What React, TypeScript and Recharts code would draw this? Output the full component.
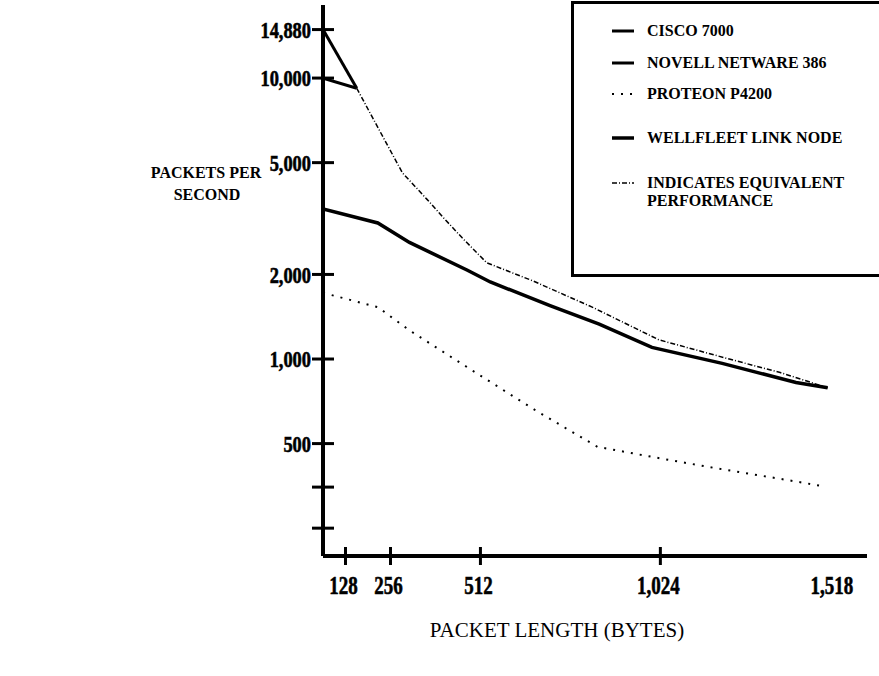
import React from 'react';
import { LineChart, Line, XAxis, YAxis, Legend, Label } from 'recharts';

// packet length (bytes) / packets per second
const ciscoBytes = [64, 160];
const ciscoPps = [14880, 9200];
const novellBytes = [64, 160];
const novellPps = [10000, 9200];
const proteonBytes = [64, 220, 310, 480, 670, 845, 985, 1175, 1385, 1485];
const proteonPps = [1720, 1530, 1265, 925, 655, 487, 452, 410, 371, 353];
const wellfleetBytes = [64, 220, 310, 475, 540, 710, 850, 1000, 1200, 1410, 1500];
const wellfleetPps = [3420, 3050, 2600, 2070, 1880, 1550, 1330, 1100, 965, 825, 790];
const equivBytes = [160, 225, 290, 360, 405, 460, 530, 660, 830, 1020, 1220, 1365, 1500];
const equivPps = [9200, 6500, 4600, 3700, 3200, 2700, 2200, 1900, 1530, 1170, 1000, 895, 790];

const xTicks = [128, 256, 512, 1024, 1518];
const xTickMarks = [128, 256, 512, 1024];
const yTicks = [250, 350, 500, 1000, 2000, 5000, 10000, 14880];
const yLabelled = [500, 1000, 2000, 5000, 10000, 14880];

const seriesNames = [
    'CISCO 7000',
    'NOVELL NETWARE 386',
    'PROTEON P4200',
    'WELLFLEET LINK NODE',
    'INDICATES EQUIVALENT PERFORMANCE',
];

const FONT = '"Liberation Serif", "Times New Roman", serif';

const toPoints = (xs: number[], ys: number[]) =>
    xs.map((x, i) => ({ bytes: x, pps: ys[i] }));

const lineStyles: Record<string, { width: number; dash?: string }> = {
    'CISCO 7000': { width: 3 },
    'NOVELL NETWARE 386': { width: 3 },
    'PROTEON P4200': { width: 2, dash: '2 7' },
    'WELLFLEET LINK NODE': { width: 3.5 },
    'INDICATES EQUIVALENT PERFORMANCE': { width: 1.5, dash: '5 2 1 2' },
};

const legendRowTops = [18, 50, 81, 125, 170];

const XTick = (props: any) => {
    const { x, y, payload } = props;
    return (
        <g>
            {xTickMarks.includes(payload.value) && (
                <line x1={x} x2={x} y1={y - 9} y2={y + 9} stroke="#000" strokeWidth={3} />
            )}
            <text
                transform={`translate(${x - 2},${y + 38}) scale(0.76,1)`}
                textAnchor="middle"
                fontFamily={FONT}
                fontWeight="bold"
                fontSize={25}
                fill="#000"
                stroke="#000"
                strokeWidth={0.6}
            >
                {payload.value.toLocaleString('en-US')}
            </text>
        </g>
    );
};

const YTick = (props: any) => {
    const { x, y, payload } = props;
    return (
        <g>
            <line x1={x - 11} x2={x + 11} y1={y} y2={y} stroke="#000" strokeWidth={3} />
            {yLabelled.includes(payload.value) && (
                <text
                    transform={`translate(${x - 12},${y}) scale(0.8,1)`}
                    textAnchor="end"
                    dy="0.36em"
                    fontFamily={FONT}
                    fontWeight="bold"
                    fontSize={23}
                    fill="#000"
                    stroke="#000"
                    strokeWidth={0.6}
                >
                    {payload.value.toLocaleString('en-US')}
                </text>
            )}
        </g>
    );
};

const renderLegend = () => (
    <div
        style={{
            position: 'relative',
            width: '100%',
            height: '100%',
            boxSizing: 'border-box',
            border: '3px solid #000',
            borderRight: 'none',
            background: '#fff',
            fontFamily: FONT,
            fontWeight: 'bold',
            fontSize: 16,
            lineHeight: '18px',
            color: '#000',
        }}
    >
        {seriesNames.map((name, i) => {
            const st = lineStyles[name];
            return (
                <div key={name} style={{ position: 'absolute', left: 38, top: legendRowTops[i] }}>
                    <svg width={22} height={18} style={{ position: 'absolute', left: 0, top: 0 }}>
                        <line
                            x1={0}
                            x2={22}
                            y1={9}
                            y2={9}
                            stroke="#000"
                            strokeWidth={st.width}
                            strokeDasharray={st.dash}
                        />
                    </svg>
                    <div style={{ position: 'absolute', left: 35, top: 0, width: 210 }}>{name}</div>
                </div>
            );
        })}
    </div>
);

const App: React.FC = () => {
    return (
        <div style={{ position: 'absolute', left: 0, top: 0, width: 879, height: 676, background: '#fff' }}>
            <LineChart width={879} height={676} margin={{ top: 5, right: 12, bottom: 0, left: 0 }}>
                <XAxis
                    type="number"
                    dataKey="bytes"
                    domain={[64, 1612]}
                    ticks={xTicks}
                    allowDataOverflow
                    height={120}
                    tickSize={0}
                    tickMargin={0}
                    tickLine={false}
                    axisLine={{ stroke: '#000', strokeWidth: 4 }}
                    tick={<XTick />}
                >
                    <Label
                        content={() => (
                            <text x={557} y={637} textAnchor="middle" fontFamily={FONT} fontSize={21} fill="#000">
                                PACKET LENGTH (BYTES)
                            </text>
                        )}
                    />
                </XAxis>
                <YAxis
                    type="number"
                    scale="log"
                    domain={[199, 18200]}
                    ticks={yTicks}
                    allowDataOverflow
                    width={323}
                    tickSize={0}
                    tickMargin={0}
                    tickLine={false}
                    axisLine={{ stroke: '#000', strokeWidth: 4 }}
                    tick={<YTick />}
                >
                    <Label
                        content={() => (
                            <text textAnchor="middle" fontFamily={FONT} fontWeight="bold" fontSize={16} fill="#000">
                                <tspan x={206} y={178}>PACKETS PER</tspan>
                                <tspan x={207} y={200}>SECOND</tspan>
                            </text>
                        )}
                    />
                </YAxis>
                <Legend
                    layout="vertical"
                    align="center"
                    verticalAlign="middle"
                    content={renderLegend}
                    wrapperStyle={{ left: 571, top: 1, width: 308, height: 276 }}
                />
                <Line
                    name={seriesNames[0]}
                    data={toPoints(ciscoBytes, ciscoPps)}
                    dataKey="pps"
                    type="linear"
                    stroke="#000"
                    strokeWidth={3}
                    dot={false}
                    isAnimationActive={false}
                />
                <Line
                    name={seriesNames[1]}
                    data={toPoints(novellBytes, novellPps)}
                    dataKey="pps"
                    type="linear"
                    stroke="#000"
                    strokeWidth={3}
                    dot={false}
                    isAnimationActive={false}
                />
                <Line
                    name={seriesNames[2]}
                    data={toPoints(proteonBytes, proteonPps)}
                    dataKey="pps"
                    type="linear"
                    stroke="#000"
                    strokeWidth={2}
                    strokeDasharray="2 7"
                    dot={false}
                    isAnimationActive={false}
                />
                <Line
                    name={seriesNames[4]}
                    data={toPoints(equivBytes, equivPps)}
                    dataKey="pps"
                    type="linear"
                    stroke="#000"
                    strokeWidth={1.5}
                    strokeDasharray="5 2 1 2"
                    dot={false}
                    isAnimationActive={false}
                />
                <Line
                    name={seriesNames[3]}
                    data={toPoints(wellfleetBytes, wellfleetPps)}
                    dataKey="pps"
                    type="linear"
                    stroke="#000"
                    strokeWidth={3.5}
                    dot={false}
                    isAnimationActive={false}
                />
            </LineChart>
        </div>
    );
};

export default App;
